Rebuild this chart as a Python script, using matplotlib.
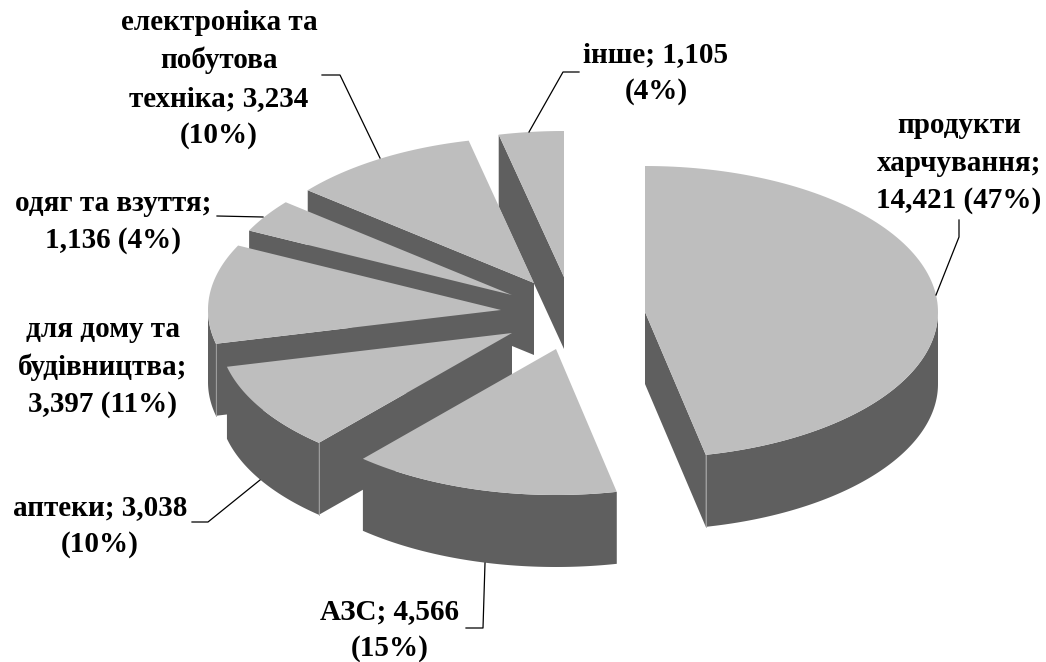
import numpy as np
import matplotlib.pyplot as plt

names = ["продукти\nхарчування;\n14,421 (47%)", "АЗС; 4,566\n(15%)", "аптеки; 3,038\n(10%)",
         "для дому та\nбудівництва;\n3,397 (11%)", "одяг та взуття;\n1,136 (4%)",
         "електроніка та\nпобутова\nтехніка; 3,234\n(10%)", "інше; 1,105\n(4%)"]
values = [14421, 4566, 3038, 3397, 1136, 3234, 1105]

# centre of each pulled out slice on the canvas
apex_x = [645, 556, 512, 501, 512, 534, 564]
apex_y = [312, 349, 333, 310, 295, 283, 277]
# label anchor: centre of the text, baseline of its last line
label_x = [959, 390, 100, 103, 113, 219, 656]
label_y = [208, 656, 552, 412, 248, 143, 99]

rx = 293
ry = 146
depth = 72
top_col = "#bebebe"
side_col = "#5f5f5f"

fig = plt.figure(figsize=(10.46, 6.62), dpi=100)
ax = fig.add_axes([0, 0, 1, 1])
ax.set_xlim(0, 1046)
ax.set_ylim(662, 0)
ax.axis("off")


def rim(cx, cy, a, b):
    t = np.radians(np.linspace(a, b, 120))
    return cx + rx * np.sin(t), cy - ry * np.cos(t)


angles = np.cumsum([0] + values) / sum(values) * 360

# back slices first so the front ones cover them
for i in range(len(values) - 1, -1, -1):
    cx, cy = apex_x[i], apex_y[i]
    a, b = angles[i], angles[i + 1]

    # flat cut faces, only the ones turned towards the viewer
    for ang, seen in ((a, np.sin(np.radians(a)) < -1e-6), (b, np.sin(np.radians(b)) > 1e-6)):
        if seen:
            ex, ey = rim(cx, cy, ang, ang)
            ax.fill([cx, ex[0], ex[0], cx], [cy, ey[0], ey[0] + depth, cy + depth],
                    color=side_col, lw=0, zorder=i * -3 + 30)

    # outer wall
    lo, hi = max(a, 90), min(b, 270)
    if lo < hi:
        wx, wy = rim(cx, cy, lo, hi)
        ax.fill(np.r_[wx, wx[::-1]], np.r_[wy, wy[::-1] + depth],
                color=side_col, lw=0, zorder=i * -3 + 30)
        # thin light seam where the wall meets a cut face
        if 180 < a < 270:
            ax.plot([wx[0], wx[0]], [wy[0], wy[0] + depth], color="#a8a8a8", lw=0.6, zorder=i * -3 + 31)
        if 90 < b < 180:
            ax.plot([wx[-1], wx[-1]], [wy[-1], wy[-1] + depth], color="#a8a8a8", lw=0.6, zorder=i * -3 + 31)

    tx, ty = rim(cx, cy, a, b)
    ax.fill(np.r_[cx, tx], np.r_[cy, ty], color=top_col, lw=0, zorder=i * -3 + 32)

# leader lines
ax.plot([936, 959, 959], [295, 237, 220], color="black", lw=0.9, zorder=50)
ax.plot([485, 483, 466], [563, 628, 628], color="black", lw=0.9, zorder=50)
ax.plot([260, 208, 192], [480, 522, 522], color="black", lw=0.9, zorder=50)
ax.plot([263, 217], [217, 216], color="black", lw=0.9, zorder=50)
ax.plot([380, 340, 322], [158, 75, 75], color="black", lw=0.9, zorder=50)
ax.plot([529, 563, 579], [132, 72, 72], color="black", lw=0.9, zorder=50)

for i in range(len(names)):
    ax.text(label_x[i], label_y[i], names[i], ha="center", va="baseline", family="Liberation Serif",
            weight="bold", fontsize=21, linespacing=1.49, color="black", zorder=60)

plt.savefig("out.png", dpi=100)
